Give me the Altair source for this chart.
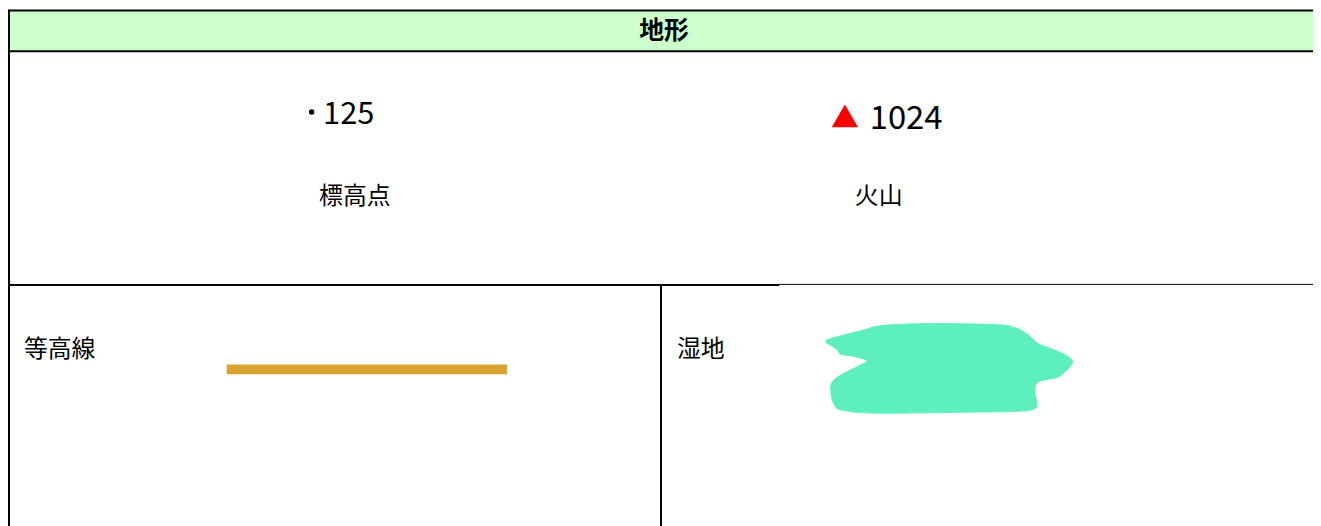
import altair as alt
import pandas as pd

# ---- chart canvas (reference pixel coordinates) ----
W, H = 1313, 518
X0, Y0 = 4, 5

FONT = "Noto Sans CJK JP"

# ---- texts ----
title = "地形"
header_x = [664]
header_y = [27]

num_labels = ["125", "1024"]
num_x = [321, 871]
num_y = [120, 125]          # baseline of the digits
num_size = [31, 33]

name_labels = ["標高点", "火山"]
name_x = [353, 880]
name_y = [194, 194]

side_labels = ["等高線", "湿地"]
side_x = [20, 677]
side_y = [348, 348]

# spot-height dot and volcano marker
dot_x = [309.5]
dot_y = [108]
tri_x = [846]
tri_y = [112]

# contour line sample
contour_x = [224]
contour_x2 = [506]
contour_y = [367]

# wetland outline
wet_x = [827, 843, 863, 883, 927, 997, 1017, 1030, 1040, 1050, 1067, 1075, 1070,
         1060, 1050, 1040, 1037, 1039, 1038, 1023, 977, 877, 843, 835, 832, 833,
         843, 857, 868, 863, 850, 842, 838, 832]
wet_y = [338, 333, 328, 323, 321, 322, 325, 332, 341, 345, 352, 359, 367,
         375, 377, 380, 388, 400, 406, 409, 410, 411, 408, 402, 390, 380,
         372, 365, 359, 356, 353, 352, 347, 343]

# table grid lines
seg_x = [5, 5, 5, 5, 780, 661]
seg_x2 = [1320, 1320, 5, 780, 1320, 661]
seg_y = [6, 47, 5, 282, 281.5, 282]
seg_y2 = [6, 47, 530, 282, 281.5, 530]
seg_w = [2, 2, 2, 2, 1, 2]

xs = alt.Scale(domain=[X0, X0 + W])
ys = alt.Scale(domain=[Y0, Y0 + H], reverse=True)
XN = dict(scale=xs, axis=None)
YN = dict(scale=ys, axis=None)

header_bg = alt.Chart(pd.DataFrame({"x": [5], "x2": [1320], "y": [6], "y2": [47]})).mark_rect(
    color="#CCFFCC"
).encode(
    x=alt.X("x:Q", **XN), x2="x2:Q", y=alt.Y("y:Q", **YN), y2="y2:Q"
)

grid = alt.Chart(pd.DataFrame({"x": seg_x, "x2": seg_x2, "y": seg_y, "y2": seg_y2, "w": seg_w})).mark_rule(
    color="black"
).encode(
    x=alt.X("x:Q", **XN), x2="x2:Q", y=alt.Y("y:Q", **YN), y2="y2:Q",
    strokeWidth=alt.StrokeWidth("w:Q", scale=None),
)

header_text = alt.Chart(pd.DataFrame({"t": [title], "x": header_x, "y": header_y})).mark_text(
    font=FONT, fontSize=25, fontWeight="bold", color="black", baseline="middle", align="center"
).encode(x=alt.X("x:Q", **XN), y=alt.Y("y:Q", **YN), text="t:N")

num_text = alt.Chart(pd.DataFrame({"t": num_labels, "x": num_x, "y": num_y, "s": num_size})).mark_text(
    font=FONT, color="black", baseline="alphabetic", align="left"
).encode(x=alt.X("x:Q", **XN), y=alt.Y("y:Q", **YN), text="t:N",
         size=alt.Size("s:Q", scale=None))

name_text = alt.Chart(pd.DataFrame({"t": name_labels, "x": name_x, "y": name_y})).mark_text(
    font=FONT, fontSize=24, color="black", baseline="middle", align="center"
).encode(x=alt.X("x:Q", **XN), y=alt.Y("y:Q", **YN), text="t:N")

side_text = alt.Chart(pd.DataFrame({"t": side_labels, "x": side_x, "y": side_y})).mark_text(
    font=FONT, fontSize=24, color="black", baseline="middle", align="left"
).encode(x=alt.X("x:Q", **XN), y=alt.Y("y:Q", **YN), text="t:N")

dot = alt.Chart(pd.DataFrame({"x": dot_x, "y": dot_y})).mark_point(
    shape="circle", filled=True, color="black", size=30, opacity=1
).encode(x=alt.X("x:Q", **XN), y=alt.Y("y:Q", **YN))

triangle = alt.Chart(pd.DataFrame({"x": tri_x, "y": tri_y})).mark_point(
    shape="triangle-up", filled=True, color="#FF0000", size=700, opacity=1
).encode(x=alt.X("x:Q", **XN), y=alt.Y("y:Q", **YN))

contour = alt.Chart(pd.DataFrame({"x": contour_x, "x2": contour_x2, "y": contour_y})).mark_rule(
    color="#D9A332", strokeWidth=10
).encode(x=alt.X("x:Q", **XN), x2="x2:Q", y=alt.Y("y:Q", **YN))

wetland = alt.Chart(pd.DataFrame({"x": wet_x, "y": wet_y, "i": list(range(len(wet_x)))})).mark_line(
    interpolate="cardinal-closed", fill="#5EEFBF", stroke="#5EEFBF", strokeWidth=1
).encode(x=alt.X("x:Q", **XN), y=alt.Y("y:Q", **YN), order="i:Q")

chart = alt.layer(
    header_bg, contour, wetland, triangle, dot, grid, header_text, num_text, name_text, side_text
).properties(
    width=W, height=H, autosize=alt.AutoSizeParams(type="none"), padding=0, background="white"
).configure_view(stroke=None)

chart.save("out.html", embed_options={"renderer": "svg", "actions": False})
